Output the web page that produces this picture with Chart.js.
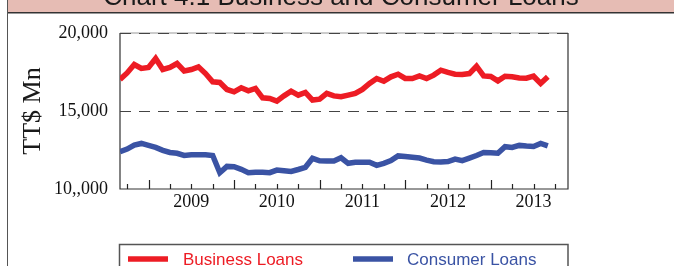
<!DOCTYPE html>
<html>
<head>
<meta charset="utf-8">
<script src="https://cdn.jsdelivr.net/npm/chart.js@4/dist/chart.umd.min.js"></script>
<style>
html,body{margin:0;padding:0;background:#fff;}
#wrap{position:relative;width:674px;height:266px;overflow:hidden;}
canvas{display:block;}
</style>
</head>
<body>
<div id="wrap"><canvas id="c" width="674" height="266"></canvas></div>
<script>
// ---- data ----
const chartTitle = 'Chart 4.1 Business and Consumer Loans';
const yAxisTitle = 'TT$ Mn';
const months = [
  'Sep 2008','Oct 2008','Nov 2008','Dec 2008',
  'Jan 2009','Feb 2009','Mar 2009','Apr 2009','May 2009','Jun 2009','Jul 2009','Aug 2009','Sep 2009','Oct 2009','Nov 2009','Dec 2009',
  'Jan 2010','Feb 2010','Mar 2010','Apr 2010','May 2010','Jun 2010','Jul 2010','Aug 2010','Sep 2010','Oct 2010','Nov 2010','Dec 2010',
  'Jan 2011','Feb 2011','Mar 2011','Apr 2011','May 2011','Jun 2011','Jul 2011','Aug 2011','Sep 2011','Oct 2011','Nov 2011','Dec 2011',
  'Jan 2012','Feb 2012','Mar 2012','Apr 2012','May 2012','Jun 2012','Jul 2012','Aug 2012','Sep 2012','Oct 2012','Nov 2012','Dec 2012',
  'Jan 2013','Feb 2013','Mar 2013','Apr 2013','May 2013','Jun 2013','Jul 2013','Aug 2013','Sep 2013'
];
const businessLoans = [
  17020,17440,17980,17725,17790,18365,17660,17790,18045,17570,17660,17830,17400,16870,16830,16380,
  16230,16485,16290,16445,15845,15800,15630,15970,16270,16015,16190,15700,15760,16125,15970,15910,
  16015,16125,16380,16765,17085,16910,17190,17360,17085,17085,17250,17085,17300,17615,17470,17360,
  17340,17400,17870,17250,17210,16930,17230,17190,17120,17100,17230,16765,17190
];
const consumerLoans = [
  12390,12560,12815,12920,12800,12670,12480,12340,12290,12155,12195,12195,12195,12150,11045,11450,
  11430,11260,11045,11080,11080,11050,11215,11170,11130,11250,11390,11965,11810,11790,11790,12000,
  11645,11710,11710,11710,11515,11645,11820,12120,12080,12040,11985,11855,11750,11730,11760,11920,
  11820,11980,12150,12340,12320,12290,12710,12660,12795,12750,12720,12920,12760
];
const seriesNames = ['Business Loans','Consumer Loans'];
const yearLabels = ['2009','2010','2011','2012','2013'];
const yTickLabels = ['10,,000','15,000','20,000'];
const yTickValues = [10000,15000,20000];

// x value: months relative to Jan of the first labelled year
const firstYear = parseInt(yearLabels[0],10);
function monthIndex(label){
  const names=['Jan','Feb','Mar','Apr','May','Jun','Jul','Aug','Sep','Oct','Nov','Dec'];
  const [m,y]=label.split(' ');
  return (parseInt(y,10)-firstYear)*12+names.indexOf(m);
}
const xs = months.map(monthIndex);
const toPts = arr => arr.map((v,i)=>({x:xs[i],y:v}));

const RED='#ED1C24', BLUE='#3A53A4';

const framePlugin = {
  id:'frame',
  beforeDraw(chart){
    const ctx=chart.ctx;
    ctx.save();
    ctx.fillStyle='#fff';ctx.fillRect(0,0,chart.width,chart.height);
    // title bar
    ctx.fillStyle='#E6BCB4';ctx.fillRect(8,0,chart.width-8,12.5);
    ctx.strokeStyle='#333';ctx.lineWidth=1.5;
    ctx.beginPath();ctx.moveTo(8,12.8);ctx.lineTo(chart.width,12.8);ctx.stroke();
    ctx.fillStyle='#1a1a1a';ctx.font='26px "Liberation Sans", Arial, sans-serif';
    ctx.textAlign='center';ctx.textBaseline='alphabetic';
    ctx.fillText(chartTitle,341,5);
    // left page frame line
    ctx.strokeStyle='#555';ctx.lineWidth=1;
    ctx.beginPath();ctx.moveTo(7.5,0);ctx.lineTo(7.5,chart.height);ctx.stroke();
    ctx.restore();
  },
  beforeDatasetsDraw(chart){
    const {ctx,chartArea:a,scales:{x,y}}=chart;
    ctx.save();
    // box
    ctx.lineWidth=1.2;
    ctx.strokeStyle='#999';
    ctx.beginPath();ctx.moveTo(a.left,a.top);ctx.lineTo(a.right,a.top);ctx.stroke();
    ctx.strokeStyle='#333';
    ctx.beginPath();ctx.moveTo(a.left,a.top);ctx.lineTo(a.left,a.bottom);ctx.lineTo(a.right,a.bottom);ctx.lineTo(a.right,a.top);ctx.stroke();
    // dashed gridlines
    ctx.setLineDash([11,8]);ctx.strokeStyle='#444';ctx.lineWidth=1.2;
    yTickValues.slice(1).forEach(v=>{
      const py=Math.round(y.getPixelForValue(v))+0.5;
      ctx.beginPath();ctx.moveTo(a.left,py);ctx.lineTo(a.right,py);ctx.stroke();
    });
    ctx.setLineDash([]);
    // inward x ticks
    ctx.strokeStyle='#222';ctx.lineWidth=1.2;
    x.ticks.forEach(t=>{
      const px=Math.round(x.getPixelForValue(t.value))+0.5;
      const len=(t.value%12===0)?9:5;
      ctx.beginPath();ctx.moveTo(px,a.bottom);ctx.lineTo(px,a.bottom-len);ctx.stroke();
    });
    ctx.restore();
  },
  afterDraw(chart){
    const ctx=chart.ctx;
    ctx.save();
    // y axis title
    ctx.fillStyle='#1a1a1a';ctx.font='26px "Liberation Serif", "Times New Roman", serif';
    ctx.translate(40,111);ctx.rotate(-Math.PI/2);
    ctx.textAlign='center';ctx.textBaseline='alphabetic';
    ctx.fillText(yAxisTitle,0,0);
    ctx.restore();
    // legend
    ctx.save();
    ctx.strokeStyle='#555';ctx.lineWidth=1.5;
    ctx.strokeRect(119.5,244.5,448.5,30);
    const items=[{x0:128,x1:168,tx:183},{x0:353,x1:393,tx:407}];
    chart.data.datasets.forEach((ds,i)=>{
      const it=items[i];
      ctx.strokeStyle=ds.borderColor;ctx.lineWidth=5.5;
      ctx.beginPath();ctx.moveTo(it.x0,259);ctx.lineTo(it.x1,259);ctx.stroke();
      ctx.fillStyle=ds.borderColor;ctx.font='17px "Liberation Sans", Arial, sans-serif';
      ctx.textAlign='left';ctx.textBaseline='alphabetic';
      ctx.fillText(ds.label,it.tx,265);
    });
    ctx.restore();
  }
};

new Chart(document.getElementById('c'),{
  type:'line',
  data:{
    datasets:[
      {label:seriesNames[0],data:toPts(businessLoans),borderColor:RED,backgroundColor:RED,borderWidth:5.5,pointRadius:0,tension:0,fill:false},
      {label:seriesNames[1],data:toPts(consumerLoans),borderColor:BLUE,backgroundColor:BLUE,borderWidth:5.5,pointRadius:0,tension:0,fill:false}
    ]
  },
  options:{
    responsive:false,animation:false,
    layout:{padding:{left:0,right:106,top:33,bottom:0}},
    plugins:{legend:{display:false},tooltip:{enabled:false},title:{display:false}},
    scales:{
      x:{
        type:'linear',min:xs[0],max:xs[0]+448/7.13,
        afterBuildTicks(s){
          const t=[];for(let v=xs[0]+1;v<=s.max;v+=3)t.push({value:v});s.ticks=t;
        },
        afterFit(s){s.height=77;},
        grid:{display:false,drawTicks:false},
        border:{display:false},
        ticks:{
          autoSkip:false,maxRotation:0,padding:2,color:'#111',
          font:{family:'"Liberation Serif", "Times New Roman", serif',size:18},
          callback:(v)=>{const r=((v%12)+12)%12;if(r!==6)return '';const k=Math.round((v-6)/12);return yearLabels[k]||'';}
        }
      },
      y:{
        min:10000,max:20000,
        afterBuildTicks(s){s.ticks=yTickValues.map(v=>({value:v}));},
        afterFit(s){s.width=120;},
        grid:{display:false,drawTicks:false},
        border:{display:false},
        ticks:{
          padding:12,color:'#111',
          font:{family:'"Liberation Serif", "Times New Roman", serif',size:18},
          callback:(v)=>{const i=yTickValues.indexOf(v);return i>=0?yTickLabels[i]:'';}
        }
      }
    }
  },
  plugins:[framePlugin]
});
</script>
</body>
</html>
